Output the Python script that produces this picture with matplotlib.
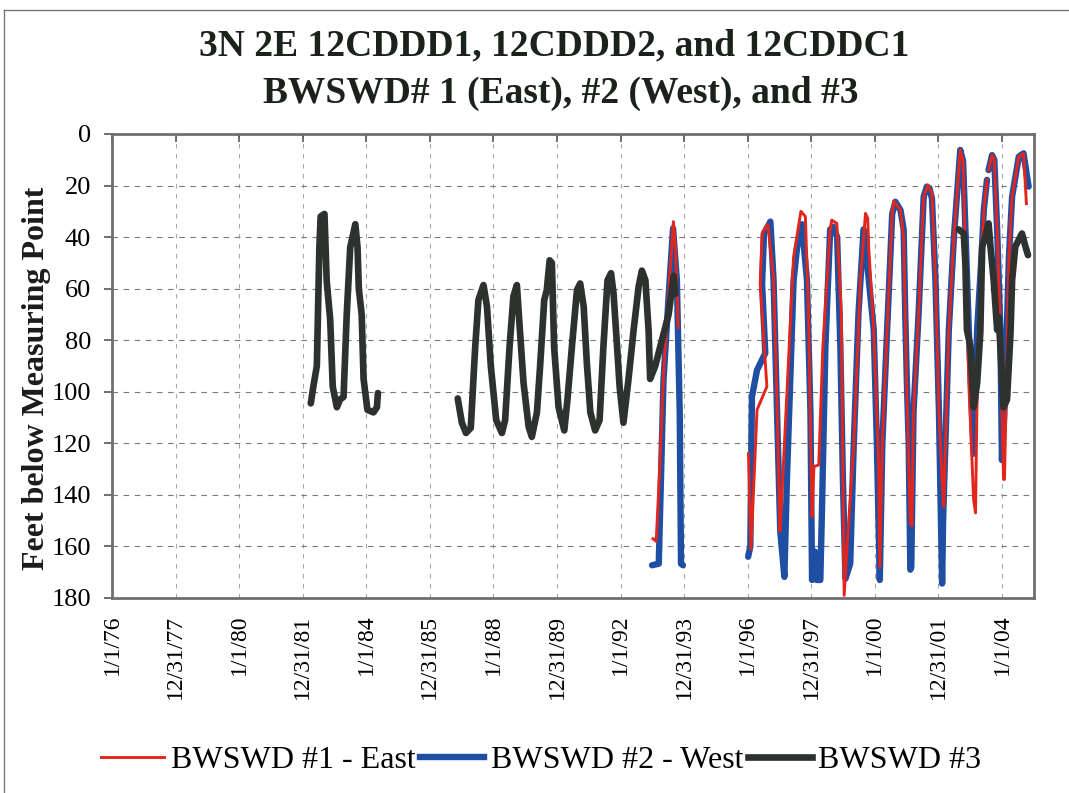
import matplotlib.pyplot as plt
import matplotlib.dates as mdates
import numpy as np
from matplotlib.lines import Line2D

plt.rcParams['font.family'] = ['Liberation Serif', 'DejaVu Serif']

# readings: decimal year of measurement, depth to water (ft below MP); nan = gap in record
east_years = [1993.01, 1993.11, 1993.22, 1993.34, 1993.50, 1993.65, 1993.72, 1993.80, np.nan,
              1996.01, 1996.09, 1996.28, 1996.59, 1996.38, 1996.44, 1996.62, 1996.80, 1996.91,
              1997.00, 1997.06, 1997.43, 1997.66, 1997.80, 1997.90, 1998.01, 1998.07, 1998.22,
              1998.35, 1998.58, 1998.63, 1998.79, 1998.93, 1999.02, 1999.11, 1999.32, 1999.53,
              1999.69, 1999.76, 1999.79, 1999.95, 2000.10, 2000.14, 2000.22, 2000.37, 2000.53,
              2000.58, 2000.79, 2000.89, 2000.99, 2001.10, 2001.15, 2001.20, 2001.36, 2001.52,
              2001.65, 2001.78, 2001.89, 2002.00, 2002.10, 2002.15, 2002.31, 2002.47, 2002.67,
              2002.76, 2002.95, 2003.09, 2003.15, 2003.20, 2003.35, 2003.41, 2003.51, np.nan,
              2003.56, 2003.67, 2003.74, 2003.83, 2003.93, 2004.03, 2004.06, 2004.20, 2004.30,
              2004.51, 2004.66, 2004.75]
east_depth = [157, 158, 130, 93, 62, 34, 45, 75, np.nan,
              124, 161, 107, 98, 58, 38.6, 35, 56, 105,
              154, 140.7, 47.6, 30, 32, 69.6, 148.5, 129, 128.4,
              82.5, 37, 33.4, 34.7, 69.6, 179, 160, 121, 56.7,
              30.8, 32.7, 43.7, 76, 126.5, 168, 120, 76, 30.8,
              26, 29.5, 40, 100, 151, 152, 108, 69.6, 24.3,
              19.8, 23, 56.7, 108, 134, 144.6, 76, 40, 6.2,
              10.7, 100, 142, 147, 100, 45, 29.5, 17.8, np.nan,
              14, 8.2, 10, 37, 76, 134, 134, 47.6, 24.3,
              8.8, 7.5, 27]

west_years = [1992.98, 1993.19, 1993.34, 1993.50, 1993.64, 1993.76, 1993.85, 1993.89, 1993.95, np.nan,
              1996.00, 1996.07, 1996.12, 1996.28, 1996.54, 1996.44, 1996.50, 1996.70, 1996.80,
              1996.91, 1997.01, 1997.14, 1997.22, 1997.43, 1997.54, 1997.69, 1997.85, 1997.96,
              1998.01, 1998.10, 1998.15, 1998.27, 1998.32, 1998.43, 1998.58, 1998.68, 1998.80,
              1998.90, 1998.98, 1999.06, 1999.21, 1999.32, 1999.47, 1999.63, 1999.72, 1999.74,
              1999.95, 2000.05, 2000.14, 2000.22, 2000.37, 2000.53, 2000.63, 2000.79, 2000.89,
              2000.94, 2000.99, 2001.05, 2001.10, 2001.13, 2001.20, 2001.36, 2001.52, 2001.62,
              2001.70, 2001.78, 2001.89, 2002.00, 2002.10, 2002.13, 2002.31, 2002.47, 2002.67,
              2002.76, 2002.95, 2003.09, 2003.20, 2003.35, 2003.41, 2003.51, np.nan,
              2003.56, 2003.67, 2003.74, 2003.83, 2003.93, 2003.98, 2004.05, 2004.20, 2004.30,
              2004.51, 2004.66, 2004.75, 2004.82]
west_depth = [167.3, 166.7, 95.5, 63, 36.6, 56.7, 108.4, 166.7, 167.3, np.nan,
              164, 160, 102, 91.6, 85, 58, 38.5, 34, 56.7,
              108, 154, 171.8, 134, 56.7, 44, 35, 56.7, 108,
              173, 162, 173, 173, 147, 82.5, 37, 36, 40,
              82.5, 134, 172.5, 166.7, 121, 69.6, 37, 40, 50,
              76, 121, 173, 120, 76, 31, 26.3, 29.5, 37,
              69.6, 95.5, 121, 169, 168, 108, 69.6, 24.3, 20.4,
              21, 25, 56.7, 108, 174.4, 150, 76, 40, 6.2,
              10.7, 80, 124, 76, 45, 29.5, 17.8, np.nan,
              14, 8.2, 10, 37, 76, 126.5, 110, 47.6, 24.3,
              8.8, 7.5, 15, 20.4]

no3_years = [1982.25, 1982.33, 1982.44, 1982.52, 1982.56, 1982.68, 1982.75, 1982.86, 1982.94,
             1983.07, 1983.17, 1983.28, 1983.38, 1983.49, 1983.65, 1983.72, 1983.76, 1983.85,
             1983.91, 1984.03, 1984.22, 1984.33, 1984.36, np.nan,
             1986.87, 1987.00, 1987.13, 1987.28, 1987.42, 1987.52, 1987.68, 1987.79, 1987.91,
             1988.08, 1988.26, 1988.36, 1988.50, 1988.62, 1988.73, 1988.81, 1988.94, 1989.10,
             1989.20, 1989.36, 1989.46, 1989.59, 1989.67, 1989.76, 1989.83, 1989.90, 1990.04,
             1990.22, 1990.32, 1990.46, 1990.62, 1990.72, 1990.83, 1990.93, 1991.04, 1991.19,
             1991.33, 1991.45, 1991.58, 1991.69, 1991.77, 1991.88, 1991.96, 1992.08, 1992.24,
             1992.40, 1992.56, 1992.66, 1992.77, 1992.87, 1992.92, 1993.08, 1993.29, 1993.50,
             1993.66, 1993.71, np.nan,
             2002.62, 2002.78, 2002.83, 2002.88, 2002.99, 2003.09, 2003.20, 2003.30, 2003.36,
             2003.46, 2003.56, 2003.62, 2003.72, 2003.83, 2003.88, 2004.03, 2004.14, 2004.25,
             2004.30, 2004.40, 2004.61, 2004.72, 2004.80]
no3_depth = [104.5, 98, 90, 44, 32, 31, 57, 72, 98,
             106, 103, 102, 70, 44, 35, 44, 60, 70,
             95, 107, 108, 106, 100.5, np.nan,
             102.6, 112, 116, 114, 82.5, 64.4, 58.6, 67, 90,
             111, 116, 111, 82.5, 63, 58.6, 73.5, 96.7, 113.6,
             117.5, 108, 90, 64.4, 60.5, 49, 50, 82.5, 106,
             115, 103, 82.5, 60.5, 58, 67, 89, 108, 115,
             111, 82.5, 56.7, 54, 62, 82.5, 98, 112, 95,
             76, 59, 53, 56.7, 76, 95, 90, 80, 70,
             55, 62, np.nan,
             37, 38.6, 50, 76, 82.5, 106, 96.7, 77, 43.7,
             39.8, 34.7, 43.7, 56.7, 76, 71, 106, 103, 77,
             56.7, 43.7, 38.6, 43.7, 47]

tick_labels = ['1/1/76', '12/31/77', '1/1/80', '12/31/81', '1/1/84', '12/31/85', '1/1/88',
               '12/31/89', '1/1/92', '12/31/93', '1/1/96', '12/31/97', '1/1/00', '12/31/01', '1/1/04']
series_names = ['BWSWD #1 - East', 'BWSWD #2 - West', 'BWSWD #3']
title_lines = ['3N 2E 12CDDD1, 12CDDD2, and 12CDDC1', 'BWSWD# 1 (East), #2 (West), and #3']

start = mdates.datestr2num('1976-01-01')


def to_datenum(years):
    # decimal year -> matplotlib date number (nan kept so the line breaks)
    return start + (np.array(years, dtype=float) - 1976) * 365.25


c_east = '#e3261c'
c_west = '#1f4fa3'
c_no3 = '#2e322f'

fig = plt.figure(figsize=(10.69, 7.93), dpi=100)
ax = fig.add_axes([112 / 1069, 1 - 598 / 793, 922 / 1069, 464 / 793])

ax.plot(to_datenum(west_years), west_depth, color=c_west, lw=4.6, zorder=3,
        solid_joinstyle='round', solid_capstyle='round')
ax.plot(to_datenum(east_years), east_depth, color=c_east, lw=2.1, zorder=4,
        solid_joinstyle='round')
ax.plot(to_datenum(no3_years), no3_depth, color=c_no3, lw=4.8, zorder=5,
        solid_joinstyle='round', solid_capstyle='round')

ax.set_ylim(180, 0)
ax.set_yticks(np.arange(0, 181, 20))
ax.set_xlim(start, start + 10588)
ax.set_xticks(start + np.arange(len(tick_labels)) * 730)
ax.set_xticklabels(tick_labels, rotation=90, fontsize=17)

ax.grid(True, which='major', axis='y', color='#7a7a7a', ls=(0, (5, 5)), lw=0.8)
ax.grid(True, which='major', axis='x', color='#a8a8a8', ls=(0, (4, 5)), lw=0.8)
ax.set_axisbelow(True)

ax.tick_params(axis='x', bottom=False, top=True, labelbottom=True, labeltop=False,
               direction='in', length=6, width=1.2, color='#555555', pad=12)
ax.tick_params(axis='y', direction='out', length=6, width=1.2, color='#555555',
               labelsize=19, pad=9)
for sp in ax.spines.values():
    sp.set_color('#6f6f6f')
    sp.set_linewidth(2)

fig.text(0.518, 1 - 46 / 793, title_lines[0], ha='center', va='center',
         fontsize=27, fontweight='bold', color='#1b221b')
fig.text(0.525, 1 - 93 / 793, title_lines[1], ha='center', va='center',
         fontsize=27, fontweight='bold', color='#1b221b')
fig.text(37 / 1069, 1 - 378 / 793, 'Feet below Measuring Point', rotation=90,
         ha='center', va='center', fontsize=23, fontweight='bold', color='#1b1b1b')

handles = [Line2D([], [], color=c_east, lw=2.1),
           Line2D([], [], color=c_west, lw=4.6),
           Line2D([], [], color=c_no3, lw=4.8)]
fig.legend(handles, series_names, loc='center', bbox_to_anchor=(0.506, 1 - 760 / 793),
           ncol=3, frameon=False, fontsize=23, handlelength=2.0, handletextpad=0.2,
           columnspacing=0.15)

# scanned page edges
fig.add_artist(Line2D([4 / 1069, 4 / 1069], [0, 1 - 10 / 793], transform=fig.transFigure,
                      color='#777777', lw=1))
fig.add_artist(Line2D([4 / 1069, 1], [1 - 10 / 793, 1 - 10 / 793], transform=fig.transFigure,
                      color='#777777', lw=1))

fig.savefig('out.png', dpi=100)
